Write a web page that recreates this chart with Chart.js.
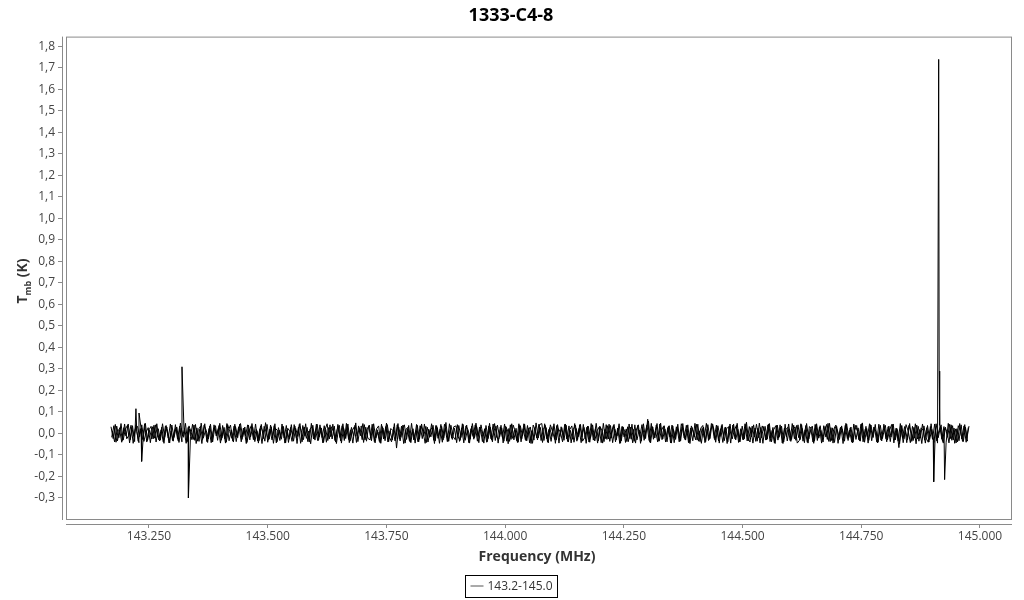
<!DOCTYPE html>
<html>
<head>
<meta charset="utf-8">
<script src="https://cdn.jsdelivr.net/npm/chart.js@4/dist/chart.umd.min.js"></script>
<style>
  html, body { margin: 0; padding: 0; background: #fff; }
  #wrap { width: 1024px; height: 600px; }
</style>
</head>
<body>
<div id="wrap"><canvas id="spec" width="1024" height="600"></canvas></div>
<script>
// channel grid of the spectrum (MHz)
const freqStart = 143.170
const freqStep = 0.004521
// the overlapping scans are shifted a little in frequency
const scanOffsets = [0, 0.0015, 0.003]

// baseline noise of the three overlapping scans, one value per channel (K)
const noiseA = [
  0.031,-0.024,0.042,-0.035,0.018,-0.041,0.027,-0.012,0.044,-0.029,0.036,-0.038,0.009,-0.043,0.025,-0.021,0.047,-0.033,0.015,-0.026,
  0.038,-0.040,0.022,-0.031,0.045,-0.018,0.030,-0.044,0.012,-0.036,0.041,-0.027,0.034,-0.039,0.019,-0.046,0.028,-0.015,0.043,-0.032,
  0.026,-0.037,0.048,-0.022,0.014,-0.042,0.035,-0.030,0.040,-0.011,0.023,-0.045,0.037,-0.025,0.046,-0.034,0.017,-0.040,0.032,-0.020,
  0.044,-0.028,0.021,-0.047,0.039,-0.016,0.029,-0.038,0.013,-0.033,0.042,-0.024,0.050,-0.041,0.020,-0.030,0.036,-0.044,0.027,-0.019,
  0.033,-0.045,0.016,-0.027,0.041,-0.036,0.024,-0.014,0.046,-0.039,0.030,-0.023,0.011,-0.048,0.038,-0.031,0.043,-0.017,0.025,-0.042,
  0.019,-0.033,0.040,-0.026,0.034,-0.047,0.022,-0.035,0.045,-0.020,0.037,-0.043,0.028,-0.013,0.049,-0.038,0.024,-0.029,0.041,-0.036,
  0.035,-0.021,0.028,-0.044,0.017,-0.037,0.043,-0.026,0.032,-0.040,0.012,-0.031,0.046,-0.068,0.030,-0.018,0.039,-0.045,0.022,-0.034,
  0.047,-0.030,0.013,-0.039,0.036,-0.024,0.044,-0.042,0.020,-0.016,0.038,-0.035,0.027,-0.046,0.033,-0.022,0.051,-0.037,0.018,-0.028,
  0.024,-0.043,0.037,-0.019,0.042,-0.032,0.015,-0.045,0.034,-0.027,0.048,-0.014,0.029,-0.038,0.021,-0.041,0.035,-0.025,0.044,-0.033,
  0.039,-0.017,0.026,-0.036,0.031,-0.048,0.040,-0.023,0.016,-0.034,0.045,-0.039,0.022,-0.029,0.037,-0.044,0.013,-0.031,0.049,-0.021,
  0.028,-0.042,0.045,-0.025,0.019,-0.037,0.033,-0.046,0.041,-0.015,0.027,-0.032,0.038,-0.040,0.014,-0.027,0.046,-0.036,0.023,-0.043,
  0.042,-0.026,0.034,-0.041,0.024,-0.019,0.047,-0.034,0.030,-0.045,0.018,-0.028,0.043,-0.022,0.036,-0.039,0.025,-0.047,0.032,-0.016,
  0.021,-0.038,0.029,-0.044,0.040,-0.030,0.016,-0.036,0.045,-0.024,0.066,-0.041,0.033,-0.018,0.039,-0.033,0.048,-0.026,0.020,-0.039,
  0.036,-0.045,0.018,-0.028,0.043,-0.037,0.031,-0.021,0.038,-0.043,0.025,-0.034,0.047,-0.031,0.012,-0.046,0.030,-0.038,0.041,-0.024,
  0.045,-0.023,0.039,-0.035,0.022,-0.042,0.028,-0.047,0.035,-0.018,0.044,-0.030,0.019,-0.039,0.034,-0.025,0.052,-0.034,0.027,-0.045,
  0.025,-0.036,0.048,-0.020,0.032,-0.031,0.040,-0.038,0.014,-0.044,0.037,-0.022,0.029,-0.047,0.043,-0.035,0.021,-0.028,0.038,-0.032,
  0.040,-0.029,0.023,-0.043,0.046,-0.026,0.019,-0.040,0.042,-0.033,0.030,-0.045,0.036,-0.017,0.047,-0.038,0.026,-0.042,0.033,-0.020,
  0.030,-0.047,0.037,-0.024,0.015,-0.039,0.044,-0.028,0.026,-0.036,0.049,-0.041,0.023,-0.032,0.039,-0.019,0.042,-0.044,0.018,-0.035,
  0.043,-0.025,0.031,-0.038,0.041,-0.030,0.024,-0.066,0.035,-0.043,0.017,-0.029,0.046,-0.037,0.028,-0.048,0.033,-0.022,0.044,-0.031,
  0.027,-0.040,0.045,-0.033,0.020,-0.045,0.038,-0.027,0.032,-0.041,0.047,-0.024,0.036,-0.046,0.022,-0.034,0.040,-0.038,0.029,-0.036
]
const noiseB = [
  -0.018,0.036,-0.041,0.012,0.029,-0.033,0.044,-0.025,-0.008,0.038,-0.046,0.021,0.033,-0.015,0.040,-0.037,0.006,0.027,-0.043,0.031,
  -0.022,0.045,-0.030,0.017,-0.039,0.034,0.010,-0.044,0.039,-0.019,0.026,-0.035,0.048,-0.012,0.023,-0.041,0.035,0.004,-0.028,0.042,
  -0.036,0.020,-0.047,0.038,0.015,-0.026,0.043,-0.040,0.028,-0.010,0.037,-0.032,0.019,-0.045,0.041,0.008,-0.023,0.034,-0.038,0.025,
  0.046,-0.017,0.030,-0.042,0.011,0.036,-0.029,0.044,-0.035,0.022,-0.047,0.033,0.005,-0.031,0.039,-0.020,0.045,-0.039,0.016,-0.027,
  0.032,-0.044,0.024,0.009,-0.037,0.041,-0.022,0.030,-0.046,0.037,-0.013,0.028,-0.040,0.047,-0.026,0.014,-0.034,0.040,-0.019,0.036,
  -0.041,0.027,-0.015,0.043,-0.033,0.018,0.038,-0.045,0.025,-0.024,0.044,-0.036,0.012,0.031,-0.042,0.035,-0.011,0.046,-0.030,0.021,
  0.039,-0.034,0.045,-0.021,0.007,-0.043,0.032,-0.016,0.048,-0.038,0.023,0.013,-0.035,0.040,-0.027,0.034,-0.047,0.019,0.028,-0.040,
  0.016,-0.025,0.042,-0.039,0.034,0.010,-0.046,0.029,-0.018,0.045,-0.032,0.037,-0.023,0.020,-0.041,0.043,0.003,-0.036,0.038,-0.014,
  -0.029,0.041,-0.037,0.026,-0.044,0.035,0.016,-0.027,0.046,-0.020,0.031,-0.043,0.040,-0.009,0.024,-0.038,0.047,-0.031,0.012,0.034,
  -0.045,0.030,-0.019,0.044,-0.036,0.023,-0.028,0.039,0.009,-0.042,0.037,-0.025,0.045,-0.034,0.017,0.030,-0.046,0.026,-0.021,0.043,
  -0.033,0.018,0.037,-0.040,0.027,-0.014,0.045,-0.031,0.022,0.006,-0.039,0.042,-0.026,0.035,-0.044,0.019,0.038,-0.029,0.041,-0.017,
  0.028,-0.046,0.033,-0.022,0.040,-0.035,0.011,0.029,-0.043,0.047,-0.024,0.036,-0.037,0.015,0.042,-0.030,0.024,-0.045,0.032,0.008,
  -0.038,0.044,-0.027,0.019,-0.045,0.037,-0.013,0.041,-0.032,0.026,0.058,-0.044,0.030,-0.021,0.046,-0.036,0.013,0.033,-0.040,0.027,
  -0.016,0.039,-0.043,0.031,0.012,-0.034,0.046,-0.028,0.021,-0.041,0.035,0.007,-0.030,0.043,-0.038,0.024,-0.019,0.047,-0.033,0.018,
  0.041,-0.031,0.027,-0.045,0.036,-0.012,0.030,-0.039,0.044,-0.026,0.014,0.038,-0.042,0.022,-0.029,0.045,-0.035,0.032,-0.016,0.040,
  -0.037,0.024,-0.044,0.035,0.010,-0.030,0.043,-0.021,0.028,-0.047,0.039,-0.015,0.034,-0.040,0.018,0.029,-0.033,0.046,-0.025,0.037,
  -0.020,0.045,-0.036,0.017,-0.041,0.032,0.022,-0.046,0.040,-0.018,0.036,-0.031,0.008,0.042,-0.037,0.027,-0.045,0.031,0.015,-0.028,
  0.035,-0.022,0.047,-0.033,0.026,-0.044,0.013,0.037,-0.029,0.043,-0.039,0.020,-0.016,0.045,-0.034,0.030,0.009,-0.041,0.038,-0.024,
  0.023,-0.039,0.034,-0.017,0.044,-0.030,0.018,-0.048,0.037,-0.025,0.041,0.011,-0.043,0.033,-0.022,0.039,-0.036,0.026,0.014,-0.045,
  0.037,-0.028,0.019,-0.042,0.045,-0.020,0.031,-0.037,0.024,0.012,-0.044,0.040,-0.030,0.021,-0.039,0.046,-0.026,0.035,-0.041,0.028
]
const noiseC = [
  0.012,-0.039,0.034,-0.020,0.046,-0.031,0.019,0.038,-0.044,0.027,-0.014,0.041,-0.036,0.022,-0.028,0.045,-0.040,0.016,0.033,-0.025,
  0.040,-0.012,-0.035,0.029,-0.046,0.037,-0.021,0.044,-0.033,0.015,0.030,-0.042,0.024,-0.018,0.047,-0.037,0.021,-0.029,0.039,-0.047,
  0.018,0.033,-0.028,0.045,-0.038,0.023,-0.043,0.011,0.036,-0.032,0.047,-0.022,0.028,-0.041,0.014,0.039,-0.034,0.043,-0.017,0.030,
  -0.039,0.025,-0.011,0.040,-0.030,0.046,-0.024,0.019,-0.045,0.035,0.008,-0.036,0.042,-0.027,0.031,-0.046,0.023,0.012,-0.033,0.044,
  -0.021,0.037,-0.042,0.028,-0.015,0.034,-0.047,0.041,0.013,-0.029,0.045,-0.038,0.020,0.032,-0.024,0.043,-0.032,0.027,-0.044,0.016,
  0.045,-0.026,0.031,0.008,-0.040,0.042,-0.019,0.036,-0.033,0.047,-0.028,0.017,-0.045,0.038,-0.013,0.025,0.034,-0.042,0.029,-0.023,
  -0.030,0.043,-0.038,0.021,0.035,-0.046,0.026,-0.034,0.041,-0.017,-0.039,0.029,-0.024,0.046,-0.035,0.019,0.040,-0.028,0.037,-0.043,
  0.022,-0.045,0.038,-0.027,0.044,-0.013,0.033,-0.040,0.015,0.028,-0.047,0.036,-0.019,0.042,-0.031,0.024,-0.038,0.045,-0.022,0.031,
  0.035,-0.016,-0.032,0.045,-0.026,0.039,-0.043,0.022,-0.014,0.040,-0.036,0.030,0.010,-0.045,0.037,-0.024,0.029,-0.039,0.046,-0.019,
  -0.027,0.038,-0.044,0.033,0.017,-0.037,0.045,-0.030,0.024,-0.041,0.036,-0.012,0.043,-0.034,0.026,-0.047,0.039,0.014,-0.030,0.041,
  0.046,-0.033,0.027,-0.044,0.040,0.010,-0.028,0.037,-0.045,0.031,-0.020,0.044,-0.037,0.018,0.035,-0.041,0.023,-0.015,0.042,-0.036,
  -0.019,0.029,-0.040,0.046,-0.031,0.022,-0.045,0.034,0.013,-0.038,0.041,-0.026,0.037,-0.043,0.020,-0.012,0.045,-0.035,0.028,-0.042,
  0.031,-0.024,0.043,-0.037,0.016,0.040,-0.046,0.028,-0.021,0.038,-0.033,0.047,-0.027,0.011,-0.040,0.044,-0.029,0.036,-0.018,0.033,
  -0.044,0.035,-0.022,0.030,-0.039,0.045,0.012,-0.031,0.040,-0.047,0.027,-0.016,0.043,-0.036,0.024,0.037,-0.043,0.019,-0.028,0.046,
  0.026,-0.041,0.036,-0.014,0.042,-0.034,0.021,0.031,-0.045,0.039,-0.025,0.047,-0.038,0.015,-0.030,0.041,-0.022,-0.040,0.034,-0.017,
  0.043,-0.020,0.028,-0.046,0.033,-0.027,0.046,-0.039,0.017,0.036,-0.031,0.040,-0.044,0.025,-0.016,0.044,-0.037,0.022,0.030,-0.045,
  -0.032,0.041,-0.025,0.037,-0.045,0.019,0.034,-0.036,0.045,-0.022,0.014,-0.040,0.032,-0.028,0.047,-0.033,0.020,0.039,-0.046,0.026,
  0.020,-0.036,0.044,-0.019,0.030,-0.041,0.038,0.011,-0.034,0.045,-0.027,0.033,-0.045,0.041,-0.014,0.026,-0.039,0.043,-0.031,0.015,
  0.038,-0.030,0.015,0.042,-0.044,0.024,-0.036,0.046,-0.020,0.032,-0.043,0.037,0.009,-0.033,0.045,-0.026,0.018,-0.047,0.035,-0.021,
  -0.041,0.032,-0.027,0.044,-0.035,0.013,0.040,-0.045,0.029,-0.018,0.043,-0.032,0.025,-0.044,0.036,0.010,-0.037,0.041,-0.024,0.034
]

// narrow lines / spikes (in the first scan)
const spikeFreqs = [143.2225, 143.2290, 143.2345, 143.3195, 143.3330, 144.9025, 144.9130, 144.9140, 144.9255]
const spikeValues = [0.115, 0.095, -0.130, 0.310, -0.300, -0.225, 1.740, 0.290, -0.215]

const seriesLabel = '143.2-145.0'
const chartTitle = '1333-C4-8'

const scans = [noiseA, noiseB, noiseC].map((ruido, k) =>
  ruido.map((v, i) => ({ x: freqStart + scanOffsets[k] + i * freqStep, y: v }))
)
spikeFreqs.forEach((f, i) => scans[0].push({ x: f, y: spikeValues[i] }))
scans[0].sort((a, b) => a.x - b.x)

const moldura = {
  id: 'moldura',
  afterDraw(chart) {
    const { ctx, chartArea: a } = chart
    ctx.save()
    ctx.strokeStyle = '#8a8a8a'
    ctx.lineWidth = 1
    // inner plot box
    ctx.strokeRect(66.5, a.top + 0.5, a.right - 67, a.bottom - 5 - a.top)
    // detached axis lines
    ctx.beginPath()
    ctx.moveTo(a.left + 0.5, a.top)
    ctx.lineTo(a.left + 0.5, a.bottom - 4)
    ctx.moveTo(66, a.bottom + 0.5)
    ctx.lineTo(a.right, a.bottom + 0.5)
    ctx.stroke()

    // y title with subscript
    ctx.translate(23, 281)
    ctx.rotate(-Math.PI / 2)
    ctx.fillStyle = '#333'
    ctx.textBaseline = 'middle'
    const big = "bold 14px 'Open Sans', sans-serif"
    const small = "bold 9px 'Open Sans', sans-serif"
    ctx.font = big
    const wT = ctx.measureText('T').width
    const wK = ctx.measureText(' (K)').width
    ctx.font = small
    const wS = ctx.measureText('mb').width
    let x = -(wT + wS + wK) / 2
    ctx.font = big
    ctx.fillText('T', x, 0)
    x += wT
    ctx.font = small
    ctx.fillText('mb', x, 5)
    x += wS
    ctx.font = big
    ctx.fillText(' (K)', x, 0)
    ctx.restore()

    // legend with a frame, below the axis title
    const ds = chart.data.datasets[0]
    ctx.save()
    ctx.font = "12px 'Open Sans', sans-serif"
    const tw = ctx.measureText(ds.label).width
    const bw = Math.round(5 + 13 + 4 + tw + 5)
    const bx = Math.round(511 - bw / 2) + 0.5
    const by = 575.5
    ctx.strokeStyle = '#000'
    ctx.lineWidth = 1
    ctx.strokeRect(bx, by, bw, 22)
    ctx.strokeStyle = '#555'
    ctx.beginPath()
    ctx.moveTo(bx + 5, by + 10.5)
    ctx.lineTo(bx + 18, by + 10.5)
    ctx.stroke()
    ctx.fillStyle = '#333'
    ctx.textBaseline = 'middle'
    ctx.fillText(ds.label, bx + 22, by + 11)
    ctx.restore()
  }
}

Chart.defaults.font.family = "'Open Sans', sans-serif"

const traco = (pts, label) => ({
  label: label,
  data: pts,
  borderColor: '#000',
  backgroundColor: '#000',
  borderWidth: 1,
  pointRadius: 0,
  tension: 0,
  fill: false
})

new Chart(document.getElementById('spec'), {
  type: 'line',
  data: {
    datasets: [traco(scans[0], seriesLabel), traco(scans[1], ''), traco(scans[2], '')]
  },
  options: {
    responsive: false,
    animation: false,
    events: [],
    layout: { padding: { left: 10, right: 12, top: 0, bottom: 30 } },
    plugins: {
      title: {
        display: true,
        text: chartTitle,
        color: '#000',
        font: { size: 18, weight: 'bold' },
        padding: { top: 5, bottom: 10 }
      },
      legend: { display: false },
      tooltip: { enabled: false }
    },
    scales: {
      x: {
        type: 'linear',
        min: 143.0668,
        max: 145.0674,
        border: { display: false },
        grid: { drawOnChartArea: false, tickLength: 4, color: '#8a8a8a' },
        ticks: {
          stepSize: 0.25,
          includeBounds: false,
          autoSkip: false,
          maxRotation: 0,
          color: '#444',
          font: { size: 12 },
          padding: 1,
          callback: v => v.toFixed(3)
        },
        title: {
          display: true,
          text: 'Frequency (MHz)',
          color: '#333',
          font: { size: 14, weight: 'bold' },
          padding: { top: 4.6, bottom: 4.6 }
        },
        afterFit: scale => { scale.height = 46 }
      },
      y: {
        min: -0.4213,
        max: 1.846,
        border: { display: false },
        grid: { drawOnChartArea: false, tickLength: 4, color: '#8a8a8a' },
        ticks: {
          stepSize: 0.1,
          includeBounds: false,
          autoSkip: false,
          color: '#444',
          font: { size: 12 },
          padding: 3,
          callback: v => v.toFixed(1).replace('.', ',')
        },
        afterBuildTicks: scale => {
          scale.ticks = scale.ticks.filter(t => t.value > -0.35 && t.value < 1.85)
        },
        afterFit: scale => { scale.width = 52 }
      }
    }
  },
  plugins: [moldura]
})
</script>
</body>
</html>
